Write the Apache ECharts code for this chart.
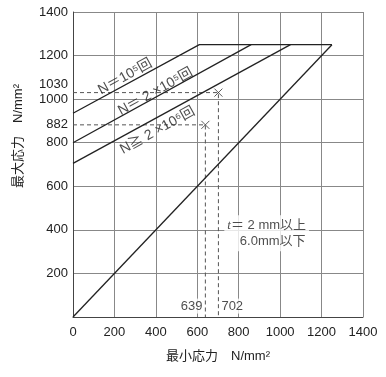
<!DOCTYPE html>
<html>
<head>
<meta charset="utf-8">
<script src="https://cdn.jsdelivr.net/npm/echarts@6/dist/echarts.min.js"></script>
<style>
  html, body { margin: 0; padding: 0; background: #fff; }
  #main { width: 386px; height: 377px; }
</style>
</head>
<body>
<div id="main"></div>
<script>
// tick labels
const xTicks = [0, 200, 400, 600, 800, 1000, 1200, 1400];
const yTicks = [200, 400, 600, 800, 882, 1000, 1030, 1200, 1400];

// fatigue limit lines (min stress, max stress)
const lineN1e5 = [[0, 935], [610, 1250], [1250, 1250]];
const lineN2e5 = [[0, 800], [860, 1250]];
const lineN2e6 = [[0, 705], [1050, 1250]];
const lineStatic = [[0, 0], [1250, 1250]];

// reference points
const refPoints = [[639, 882], [702, 1030]];
const guide1030 = [[0, 1030], [702, 1030], [702, 0]];
const guide882 = [[0, 882], [639, 882], [639, 0]];

// labels: [x, y, text]
const curveLabels = [
  [252, 1103, 'N＝10⁵回'],
  [398, 1034, 'N＝ 2 ×10⁵回'],
  [408, 856, 'N≧ 2 ×10⁶回']
];
const refLabels = [[639, 50, '639', 'left'], [702, 50, '702', 'right']];
const thicknessNote = [[935, 385]];

const font = 'Liberation Sans, Arial, Noto Sans CJK JP, sans-serif';
const ink = '#222';

let chart = echarts.init(document.getElementById('main'));

function solid(data) {
  return {
    type: 'line', data: data, symbol: 'none', silent: true,
    lineStyle: { color: ink, width: 1.3 }, z: 3
  };
}
function dashed(data) {
  return {
    type: 'line', data: data, symbol: 'none', silent: true,
    lineStyle: { color: '#555', width: 1, type: [4, 3] }, z: 2
  };
}

let options = {
  animation: false,
  textStyle: { fontFamily: font },
  grid: { left: 73, right: 23, top: 12, bottom: 60 },
  xAxis: {
    type: 'value', min: 0, max: 1400, interval: 200,
    name: '最小応力　N/mm²', nameLocation: 'middle', nameGap: 33,
    nameTextStyle: { fontSize: 13, color: ink, fontFamily: font },
    axisLine: { lineStyle: { color: '#444' } },
    axisTick: { show: false },
    axisLabel: { fontSize: 13, color: ink, margin: 9,
      customValues: xTicks, formatter: v => String(v) },
    splitLine: { lineStyle: { color: '#888', width: 1 } }
  },
  yAxis: {
    type: 'value', min: 0, max: 1400, interval: 200,
    name: '最大応力　N/mm²', nameLocation: 'middle', nameGap: 48,
    nameTextStyle: { fontSize: 13, color: ink, fontFamily: font, padding: [0, 0, 0, 57] },
    axisLine: { show: true, lineStyle: { color: '#444' } },
    axisTick: { show: false },
    axisLabel: {
      fontSize: 13, color: ink, margin: 5, customValues: yTicks,
      // 1030 sits just above 1000, so lift it a little
      formatter: v => v === 1030 ? '{up|1030}' : String(v),
      rich: { up: { fontSize: 13, color: ink, padding: [0, 0, 16, 0] } }
    },
    splitLine: { lineStyle: { color: '#888', width: 1 } }
  },
  series: [
    solid(lineStatic),
    solid(lineN1e5),
    solid(lineN2e5),
    solid(lineN2e6),
    dashed(guide1030),
    dashed(guide882),
    {
      type: 'scatter', data: refPoints, silent: true, z: 4,
      symbol: 'path://M0,0L10,10M10,0L0,10', symbolSize: 8,
      itemStyle: { color: 'none', borderColor: '#333', borderWidth: 1 }
    },
    {
      type: 'scatter', silent: true, z: 5, symbolSize: 0,
      data: curveLabels.map(d => ({ value: [d[0], d[1]], name: d[2] })),
      label: {
        show: true, position: 'inside', rotate: 29, fontSize: 14,
        color: ink, formatter: p => p.name
      }
    },
    {
      type: 'scatter', silent: true, z: 5, symbolSize: 0,
      data: refLabels.map(d => ({ value: [d[0], d[1]], name: d[2],
        label: { position: d[3], distance: 2 } })),
      label: {
        show: true, fontSize: 13, color: ink, backgroundColor: '#fff',
        padding: [1, 1], formatter: p => p.name
      }
    },
    {
      type: 'scatter', silent: true, z: 5, symbolSize: 0,
      data: thicknessNote,
      label: {
        show: true, position: 'inside', fontSize: 13, color: ink,
        backgroundColor: '#fff', padding: [2, 3], lineHeight: 16,
        formatter: '{i|t}＝ 2 mm以上\n{b|6.0mm以下}',
        rich: {
          i: { fontStyle: 'italic', fontSize: 13, fontFamily: 'Liberation Serif, serif' },
          b: { padding: [0, 0, 0, 12], fontSize: 13 }
        }
      }
    }
  ]
};

chart.setOption(options);
</script>
</body>
</html>
